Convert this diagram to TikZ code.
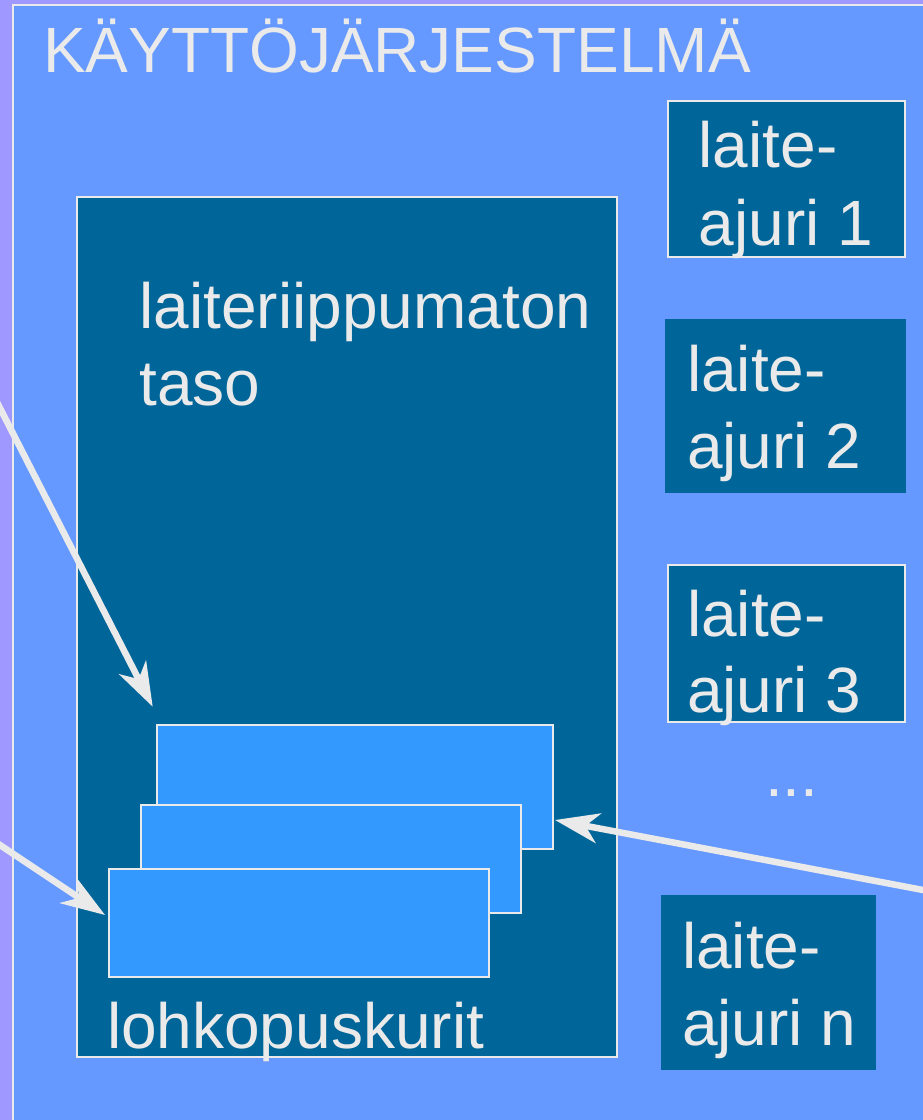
\documentclass[tikz,border=0pt]{standalone}
\usepackage{fontspec}
\setmainfont{Liberation Sans}
\usetikzlibrary{arrows.meta}
\definecolor{lav}{HTML}{9F99FF}
\definecolor{bgblue}{HTML}{6699FF}
\definecolor{dark}{HTML}{006699}
\definecolor{blk}{HTML}{3399FF}
\definecolor{fg}{HTML}{EAEAEA}
\tikzset{
  panel/.style={draw=fg, line width=2pt, fill=dark, inner sep=0pt, outer sep=0pt, anchor=north west},
  plainpanel/.style={fill=dark, inner sep=0pt, outer sep=0pt, anchor=north west},
  buf/.style={draw=fg, line width=2pt, fill=blk, inner sep=0pt, outer sep=0pt, anchor=north west},
  txt/.style={text=fg, inner sep=0pt, outer sep=0pt, anchor=base west, font=\fontsize{64}{77}\selectfont},
  arr/.style={draw=fg, line width=6.5pt, -{Stealth[length=44pt, width=30pt, inset=13pt]}}
}
\begin{document}
\begin{tikzpicture}[x=1pt, y=-1pt]
\useasboundingbox (0,0) rectangle (923,1120);
\clip (0,0) rectangle (923,1120);
\fill[lav] (0,0) rectangle (923,1120);
\draw[fg, line width=2pt, fill=bgblue] (12.5,4.5) rectangle (940,1140);
\node[txt] (title) at (43,72) {KÄYTTÖJÄRJESTELMÄ};
% main box
\node[panel, minimum width=540pt, minimum height=860pt] (main) at (76.7,197.3) {};
\node[txt] (mainA) at (139.5,328.3) {laiteriippumaton};
\node[txt] (mainB) at (139.5,405) {taso};
% buffers
\node[buf, minimum width=396.6pt, minimum height=124.3pt] (b1) at (156.7,725) {};
\node[buf, minimum width=380.3pt, minimum height=108pt] (b2) at (140.7,805.3) {};
\node[buf, minimum width=380.3pt, minimum height=108pt] (b3) at (108.7,869.3) {};
\node[txt] (lohko) at (107,1048.3) {lohkopuskurit};
% drivers
\node[panel, minimum width=236.7pt, minimum height=156pt] (d1) at (668.3,100.7) {};
\node[txt] (d1a) at (698.7,167.3) {laite-};
\node[txt] (d1b) at (698.7,245) {ajuri 1};
\node[plainpanel, minimum width=240.7pt, minimum height=174.3pt] (d2) at (665,319) {};
\node[txt] (d2a) at (687,391.7) {laite-};
\node[txt] (d2b) at (687,468.3) {ajuri 2};
\node[panel, minimum width=236.7pt, minimum height=157pt] (d3) at (668.3,564.7) {};
\node[txt] (d3a) at (687,636) {laite-};
\node[txt] (d3b) at (687,712.3) {ajuri 3};
\node[txt] (dots) at (765,796) {...};
\node[plainpanel, minimum width=215pt, minimum height=175pt] (dn) at (661,895) {};
\node[txt] (dna) at (682,968.3) {laite-};
\node[txt] (dnb) at (682,1045) {ajuri n};
% arrows
\coordinate (s1) at (-15,378.7);
\coordinate (t1) at (152.7,706.7);
\coordinate (s2) at (-20,831.7);
\coordinate (t2) at (105,915);
\coordinate (s3) at (945,894.2);
\coordinate (t3) at (555,820);
\draw[arr] (s1) -- (t1);
\draw[arr] (s2) -- (t2);
\draw[arr] (s3) -- (t3);
\end{tikzpicture}
\end{document}
